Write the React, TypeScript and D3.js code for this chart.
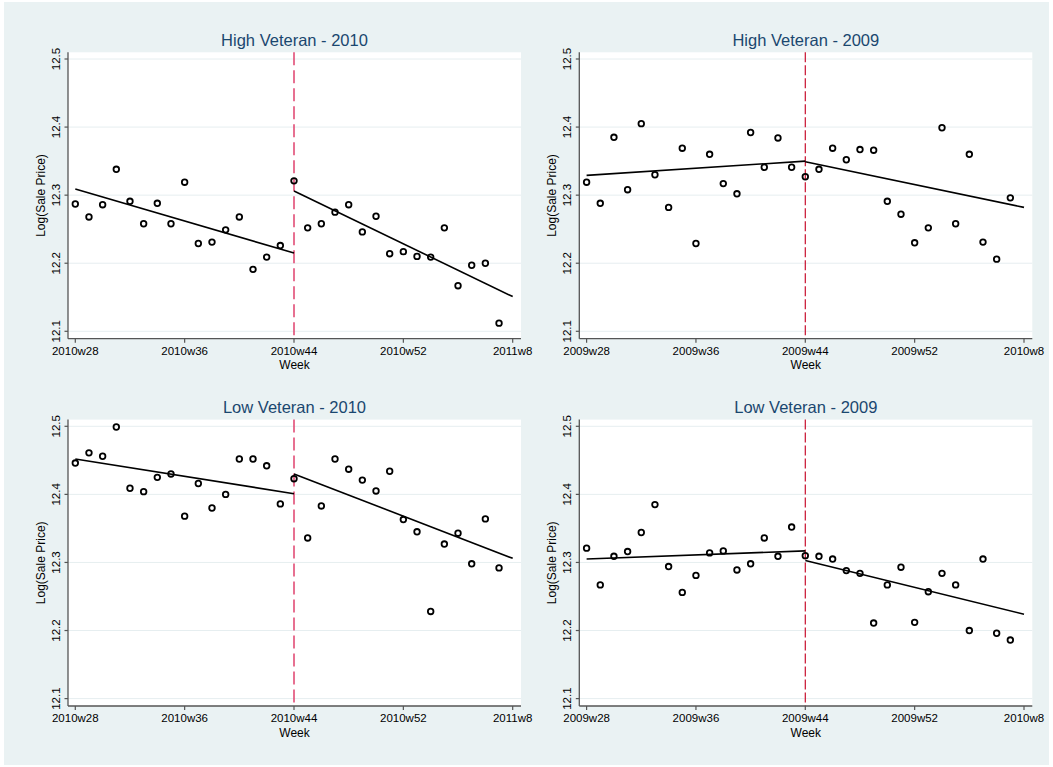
import React from "react";
import * as d3 from "d3";

const W = 1053;
const H = 767;
const FONT = "'Liberation Sans', Arial, Helvetica, sans-serif";

// weeks counted from w28 of the first year
const weeks = [0, 1, 2, 3, 4, 5, 6, 7, 8, 9, 10, 11, 12, 13, 14, 15, 16, 17, 18, 19, 20, 21, 22, 23, 24, 25, 26, 27, 28, 29, 30, 31];
const cutoffWeek = 16;
const lastWeek = 32;

const tickWeeks = [0, 8, 16, 24, 32];
const ticks2010 = ["2010w28", "2010w36", "2010w44", "2010w52", "2011w8"];
const ticks2009 = ["2009w28", "2009w36", "2009w44", "2009w52", "2010w8"];
const yTicks = [12.1, 12.2, 12.3, 12.4, 12.5];

const highVet2010 = [
  12.287, 12.268, 12.286, 12.338, 12.291, 12.258, 12.288, 12.258, 12.319, 12.229, 12.231, 12.249, 12.268, 12.191, 12.209, 12.226,
  12.321, 12.252, 12.258, 12.275, 12.286, 12.246, 12.269, 12.214, 12.217, 12.210, 12.209, 12.252, 12.167, 12.197, 12.200, 12.112,
];
const highVet2009 = [
  12.319, 12.288, 12.385, 12.308, 12.405, 12.330, 12.282, 12.369, 12.229, 12.360, 12.317, 12.302, 12.392, 12.341, 12.384, 12.341,
  12.327, 12.338, 12.369, 12.352, 12.367, 12.366, 12.291, 12.272, 12.230, 12.252, 12.399, 12.258, 12.360, 12.231, 12.206, 12.296,
];
const lowVet2010 = [
  12.446, 12.461, 12.456, 12.499, 12.409, 12.404, 12.425, 12.430, 12.368, 12.416, 12.380, 12.400, 12.452, 12.452, 12.442, 12.386,
  12.423, 12.336, 12.383, 12.452, 12.437, 12.421, 12.405, 12.434, 12.363, 12.345, 12.228, 12.327, 12.343, 12.298, 12.364, 12.292,
];
const lowVet2009 = [
  12.321, 12.267, 12.309, 12.316, 12.344, 12.385, 12.294, 12.256, 12.281, 12.314, 12.317, 12.289, 12.298, 12.336, 12.309, 12.352,
  12.310, 12.309, 12.305, 12.288, 12.284, 12.211, 12.267, 12.293, 12.212, 12.257, 12.284, 12.267, 12.200, 12.305, 12.196, 12.186,
];

// fitted lines: [start, at cutoff] before and [at cutoff, end] after
const fitHigh2010 = [12.309, 12.215, 12.306, 12.151];
const fitHigh2009 = [12.329, 12.350, 12.349, 12.282];
const fitLow2010 = [12.452, 12.401, 12.430, 12.306];
const fitLow2009 = [12.305, 12.317, 12.303, 12.224];

type PanelProps = {
  title: string;
  values: number[];
  fit: number[];
  tickLabels: string[];
  dx: number;
  dy: number;
  cutColor: string;
  cutDash: string;
  cutWidth: number;
};

const Panel = ({ title, values, fit, tickLabels, dx, dy, cutColor, cutDash, cutWidth }: PanelProps) => {
  const x = d3.scaleLinear().domain([0, lastWeek]).range([75.3 + dx, 512.7 + dx]);
  const y = d3.scaleLinear().domain([12.1, 12.5]).range([331.3 + dy, 59 + dy]);

  const left = x(0) - 7.3;
  const right = x(lastWeek) + 8.3;
  const top = y(12.5) - 6.7;
  const bottom = y(12.1) + 7.4;
  const midX = (left + right) / 2;

  const line = d3
    .line<[number, number]>()
    .x((d) => x(d[0]))
    .y((d) => y(d[1]));

  const pre = line([
    [0, fit[0]],
    [cutoffWeek, fit[1]],
  ]);
  const post = line([
    [cutoffWeek, fit[2]],
    [lastWeek, fit[3]],
  ]);

  return (
    <g fontFamily={FONT}>
      <rect x={left} y={top} width={right - left} height={bottom - top} fill="#ffffff" />
      {yTicks.map((t) => (
        <line key={t} x1={left} x2={right} y1={y(t)} y2={y(t)} stroke="#e6eef0" strokeWidth={1} />
      ))}
      <line x1={x(cutoffWeek)} x2={x(cutoffWeek)} y1={top} y2={bottom} stroke={cutColor} strokeWidth={cutWidth} strokeDasharray={cutDash} />
      <path d={pre || ""} fill="none" stroke="#000" strokeWidth={1.6} />
      <path d={post || ""} fill="none" stroke="#000" strokeWidth={1.6} />
      {values.map((v, i) => (
        <circle key={i} cx={x(weeks[i])} cy={y(v)} r={2.8} fill="none" stroke="#000" strokeWidth={1.8} />
      ))}

      {/* axes */}
      <line x1={left} x2={left} y1={top} y2={bottom} stroke="#555" strokeWidth={1.3} />
      <line x1={left} x2={right} y1={bottom} y2={bottom} stroke="#555" strokeWidth={1.3} />
      {yTicks.map((t) => (
        <g key={t}>
          <line x1={left - 3.5} x2={left} y1={y(t)} y2={y(t)} stroke="#555" strokeWidth={1.2} />
          <text
            transform={`translate(${left - 8.5},${y(t)}) rotate(-90)`}
            textAnchor="middle"
            fontSize={11.5}
            fill="#000"
          >
            {t.toFixed(1)}
          </text>
        </g>
      ))}
      {tickWeeks.map((w, i) => (
        <g key={w}>
          <line x1={x(w)} x2={x(w)} y1={bottom} y2={bottom + 4} stroke="#555" strokeWidth={1.2} />
          <text x={x(w)} y={bottom + 16.3} textAnchor="middle" fontSize={11.5} fill="#000">
            {tickLabels[i]}
          </text>
        </g>
      ))}
      <text x={midX} y={bottom + 30.5} textAnchor="middle" fontSize={12} fill="#000">
        Week
      </text>
      <text
        transform={`translate(${left - 23},${(top + bottom) / 2}) rotate(-90)`}
        textAnchor="middle"
        fontSize={12}
        fill="#000"
      >
        Log(Sale Price)
      </text>
      <text x={midX} y={top - 6.3} textAnchor="middle" fontSize={16.5} fill="#1a476f">
        {title}
      </text>
    </g>
  );
};

const App = () => {
  const colDx = 511.3;
  const rowDy = 367.3;
  return (
    <svg width={W} height={H} style={{ position: "absolute", left: 0, top: 0 }}>
      <rect x={0} y={0} width={W} height={H} fill="#ffffff" />
      <rect x={4} y={2} width={1045} height={763} fill="#eaf2f3" />
      <Panel title="High Veteran - 2010" values={highVet2010} fit={fitHigh2010} tickLabels={ticks2010} dx={0} dy={0}
        cutColor="#e0426e" cutDash="13 5" cutWidth={1.5} />
      <Panel title="High Veteran - 2009" values={highVet2009} fit={fitHigh2009} tickLabels={ticks2009} dx={colDx} dy={0}
        cutColor="#c8102e" cutDash="10 3" cutWidth={1.2} />
      <Panel title="Low Veteran - 2010" values={lowVet2010} fit={fitLow2010} tickLabels={ticks2010} dx={0} dy={rowDy}
        cutColor="#e0426e" cutDash="13 5" cutWidth={1.5} />
      <Panel title="Low Veteran - 2009" values={lowVet2009} fit={fitLow2009} tickLabels={ticks2009} dx={colDx} dy={rowDy}
        cutColor="#c8102e" cutDash="10 3" cutWidth={1.2} />
    </svg>
  );
};

export default App;
